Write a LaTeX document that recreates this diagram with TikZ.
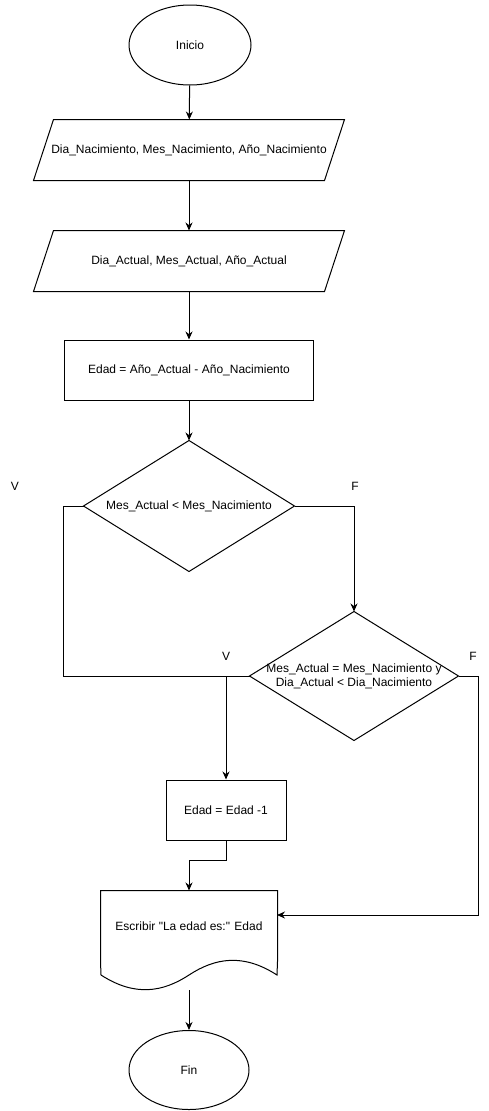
\documentclass[tikz,border=0pt]{standalone}
\usepackage{fontspec}
\setmainfont{Liberation Sans}
\usepackage{tikz}
\usetikzlibrary{shapes.geometric}
\usetikzlibrary{arrows.meta}

\begin{document}
\begin{tikzpicture}[x=1pt, y=-1pt, line width=1pt,
    every node/.style={font=\fontsize{12}{14}\selectfont},
    flow/.style={-{Stealth[length=8pt, width=7pt]}},
    terminal/.style={ellipse, draw, minimum width=122pt, minimum height=80pt},
    proc/.style={rectangle, draw, inner sep=0pt},
    box/.style={rectangle, inner sep=0pt}]

\useasboundingbox (0,0) rectangle (488,1111);

% --- START AND INPUTS ---
\node[terminal] (inicio) at (190,45) {Inicio};

\node[box, minimum width=310pt, minimum height=60pt] (nac) at (189,150) {Dia\_Nacimiento, Mes\_Nacimiento, Año\_Nacimiento};
\draw ([xshift=20pt]nac.north west) -- (nac.north east) -- ([xshift=-20pt]nac.south east) -- (nac.south west) -- cycle;

\node[box, minimum width=310pt, minimum height=60pt] (act) at (189,261) {Dia\_Actual, Mes\_Actual, Año\_Actual};
\draw ([xshift=20pt]act.north west) -- (act.north east) -- ([xshift=-20pt]act.south east) -- (act.south west) -- cycle;

\node[proc, minimum width=249pt, minimum height=60pt] (edad) at (189,370) {Edad = Año\_Actual - Año\_Nacimiento};

% --- DECISIONS ---
\node[box, minimum width=210pt, minimum height=130pt] (mes) at (189,506) {Mes\_Actual < Mes\_Nacimiento};
\draw (mes.north) -- (mes.east) -- (mes.south) -- (mes.west) -- cycle;

\node[box, minimum width=208pt, minimum height=128pt, align=center] (dia) at (354,676)
    {Mes\_Actual = Mes\_Nacimiento y\\Dia\_Actual < Dia\_Nacimiento};
\draw (dia.north) -- (dia.east) -- (dia.south) -- (dia.west) -- cycle;

\node (v1) at (15,486) {V};
\node (f1) at (355,486) {F};
\node (v2) at (226,656) {V};
\node (f2) at (473,656) {F};

% --- RESULT AND END ---
\node[proc, minimum width=120pt, minimum height=60pt] (resta) at (226,810) {Edad = Edad -1};

\node[box, minimum width=176pt, minimum height=70pt] (doc) at (189,926) {Escribir \textquotedbl La edad es:\textquotedbl{} Edad};
\draw (doc.south east) -- (doc.north east) -- (doc.north west) -- (doc.south west)
    -- (101,975) .. controls (135,997) and (163,992) .. (189,975)
    .. controls (215,958) and (243,953) .. (277,975) -- (doc.south east);
\coordinate (docin) at (277,915);
\coordinate (docout) at (189,990);

\node[terminal, minimum width=120pt, minimum height=79pt] (fin) at (189,1070) {Fin};

% --- CONNECTORS ---
\draw[flow] (inicio) -- (nac);
\draw[flow] (nac) -- (act);
\draw[flow] (act) -- (edad);
\draw[flow] (edad) -- (mes.north);
\draw (mes.west) -- ++(-20,0) |- (dia.west);
\draw[flow] (mes.east) -| (dia.north);
\draw[flow] (dia.west) -| (resta.north);
\draw[flow] (dia.east) -- ++(20,0) |- (docin);
\draw[flow] (resta.south) -- ++(0,20) -| (doc.north);
\draw[flow] (docout) -- (fin.north);

\end{tikzpicture}
\end{document}
